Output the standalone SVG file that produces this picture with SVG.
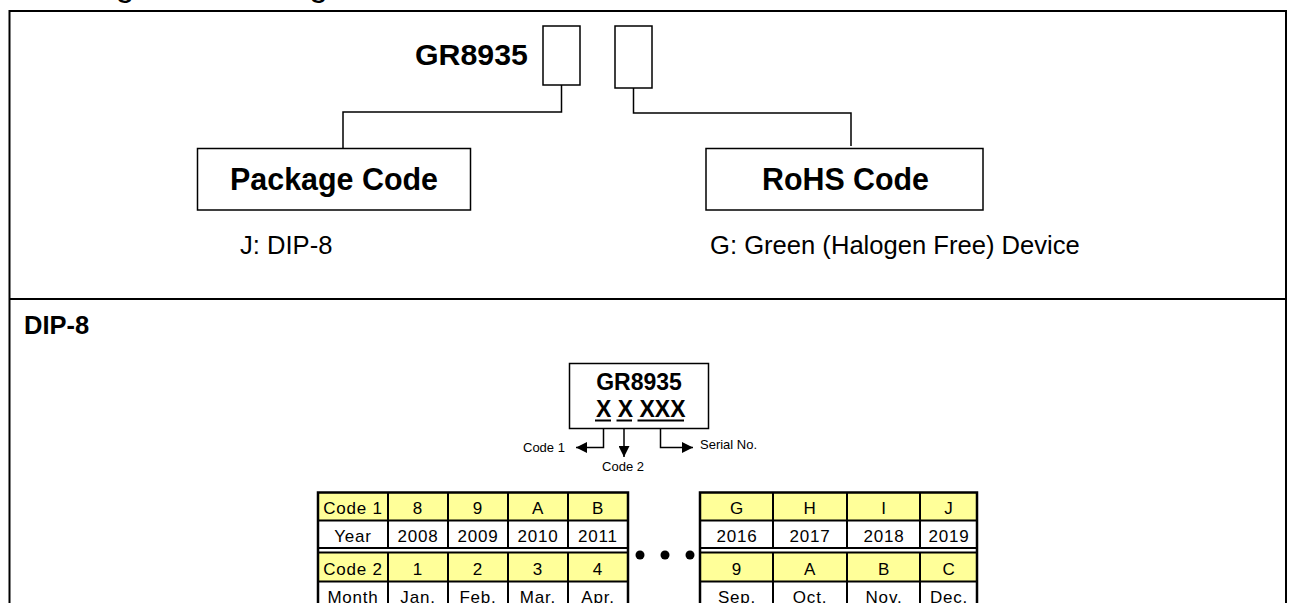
<svg xmlns="http://www.w3.org/2000/svg" width="1290" height="603" viewBox="0 0 1290 603">
<defs>
<style>
text{font-family:"Liberation Sans",Arial,sans-serif;fill:#000}
.frame{fill:none;stroke:#000;stroke-width:2}
.box{fill:#fff;stroke:#000;stroke-width:1.5}
.conn{fill:none;stroke:#000;stroke-width:1.5}
.big{font-size:32px;font-weight:bold}
.desc{font-size:25.6px}
.cell{font-size:17px;letter-spacing:0.8px;text-anchor:middle}
.small{font-size:13px}
.yel{fill:#FFFF99}
.tl{stroke:#000;stroke-width:2}
.tb{fill:none;stroke:#000;stroke-width:2.5}
</style>
<marker id="ah" viewBox="0 0 10 10" refX="10" refY="5" markerUnits="userSpaceOnUse" markerWidth="12" markerHeight="11" orient="auto">
<path d="M0,0 L10,5 L0,10 z" fill="#000"/>
</marker>
</defs>
<rect width="1290" height="603" fill="#fff"/>
<text x="4" y="-4" style="font-size:33.5px">Ordering and Marking Information</text>
<g id="frame">
<path class="frame" d="M9.5,620 V11 H1286 V620"/>
<line x1="9.5" y1="299" x2="1286" y2="299" stroke="#000" stroke-width="2"/>
</g>
<g id="part-number">
<text x="415" y="65" style="font-size:30.3px;font-weight:bold">GR8935</text>
<rect class="box" x="543" y="26" width="37" height="59"/>
<rect class="box" x="615" y="26" width="37" height="62"/>
</g>
<g id="connectors">
<path class="conn" d="M561.5,85 V112 H343 V148.5"/>
<path class="conn" d="M633.5,88 V113 H851 V146"/>
<path class="conn" d="M603.5,421 V447.5 H576" marker-end="url(#ah)"/>
<path class="conn" d="M624,421 V457" marker-end="url(#ah)"/>
<path class="conn" d="M660.5,421 V447.5 H693" marker-end="url(#ah)"/>
</g>
<g id="package-code">
<rect class="box" x="197.5" y="148.5" width="273" height="61.5"/>
<text class="big" x="230" y="190" textLength="208" lengthAdjust="spacingAndGlyphs">Package Code</text>
<text class="desc" x="240" y="254">J: DIP-8</text>
</g>
<g id="rohs-code">
<rect class="box" x="706" y="148.5" width="277" height="61.5"/>
<text class="big" x="762" y="190" textLength="167" lengthAdjust="spacingAndGlyphs">RoHS Code</text>
<text class="desc" x="710" y="254">G: Green (Halogen Free) Device</text>
</g>
<g id="dip8-label">
<text x="24" y="334" style="font-size:25.5px;font-weight:bold">DIP-8</text>
</g>
<g id="marking">
<rect class="box" x="569.5" y="363.5" width="139" height="65"/>
<text x="639" y="390" text-anchor="middle" style="font-size:23px;font-weight:bold">GR8935</text>
<text x="596" y="417" style="font-size:23px;font-weight:bold">X X XXX</text>
<line x1="595" y1="420.5" x2="611" y2="420.5" stroke="#000" stroke-width="2"/>
<line x1="616.5" y1="420.5" x2="632" y2="420.5" stroke="#000" stroke-width="2"/>
<line x1="637.5" y1="420.5" x2="684" y2="420.5" stroke="#000" stroke-width="2"/>
</g>
<g id="marking-labels">
<text class="small" x="523" y="452">Code 1</text>
<text class="small" x="623" y="471" text-anchor="middle">Code 2</text>
<text class="small" x="700" y="449">Serial No.</text>
</g>
<g id="table-left">
<rect class="yel" x="318" y="493" width="310" height="27"/>
<rect class="yel" x="318" y="552" width="310" height="29"/>
<path class="tb" d="M318,620 V492.5 H628 V620"/>
<line class="tl" x1="318" y1="520.5" x2="628" y2="520.5"/>
<line class="tl" x1="318" y1="548" x2="628" y2="548"/>
<line class="tl" x1="318" y1="552.5" x2="628" y2="552.5"/>
<line class="tl" x1="318" y1="581.5" x2="628" y2="581.5"/>
<line class="tl" x1="388" y1="492" x2="388" y2="548"/>
<line class="tl" x1="448" y1="492" x2="448" y2="548"/>
<line class="tl" x1="508" y1="492" x2="508" y2="548"/>
<line class="tl" x1="568" y1="492" x2="568" y2="548"/>
<line class="tl" x1="388" y1="552" x2="388" y2="620"/>
<line class="tl" x1="448" y1="552" x2="448" y2="620"/>
<line class="tl" x1="508" y1="552" x2="508" y2="620"/>
<line class="tl" x1="568" y1="552" x2="568" y2="620"/>
<text class="cell" x="353" y="514">Code 1</text>
<text class="cell" x="418" y="514">8</text>
<text class="cell" x="478" y="514">9</text>
<text class="cell" x="538" y="514">A</text>
<text class="cell" x="598" y="514">B</text>
<text class="cell" x="353" y="542">Year</text>
<text class="cell" x="418" y="542">2008</text>
<text class="cell" x="478" y="542">2009</text>
<text class="cell" x="538" y="542">2010</text>
<text class="cell" x="598" y="542">2011</text>
<text class="cell" x="353" y="575">Code 2</text>
<text class="cell" x="418" y="575">1</text>
<text class="cell" x="478" y="575">2</text>
<text class="cell" x="538" y="575">3</text>
<text class="cell" x="598" y="575">4</text>
<text class="cell" x="353" y="603">Month</text>
<text class="cell" x="418" y="603">Jan.</text>
<text class="cell" x="478" y="603">Feb.</text>
<text class="cell" x="538" y="603">Mar.</text>
<text class="cell" x="598" y="603">Apr.</text>
</g>
<g id="ellipsis">
<circle cx="640" cy="555" r="4.5"/>
<circle cx="665" cy="555" r="4.5"/>
<circle cx="690" cy="555" r="4.5"/>
</g>
<g id="table-right">
<rect class="yel" x="700" y="493" width="277" height="27"/>
<rect class="yel" x="700" y="552" width="277" height="29"/>
<path class="tb" d="M700,620 V492.5 H977 V620"/>
<line class="tl" x1="700" y1="520.5" x2="977" y2="520.5"/>
<line class="tl" x1="700" y1="548" x2="977" y2="548"/>
<line class="tl" x1="700" y1="552.5" x2="977" y2="552.5"/>
<line class="tl" x1="700" y1="581.5" x2="977" y2="581.5"/>
<line class="tl" x1="773" y1="492" x2="773" y2="548"/>
<line class="tl" x1="847" y1="492" x2="847" y2="548"/>
<line class="tl" x1="920" y1="492" x2="920" y2="548"/>
<line class="tl" x1="773" y1="552" x2="773" y2="620"/>
<line class="tl" x1="847" y1="552" x2="847" y2="620"/>
<line class="tl" x1="920" y1="552" x2="920" y2="620"/>
<text class="cell" x="737" y="514">G</text>
<text class="cell" x="810" y="514">H</text>
<text class="cell" x="884" y="514">I</text>
<text class="cell" x="949" y="514">J</text>
<text class="cell" x="737" y="542">2016</text>
<text class="cell" x="810" y="542">2017</text>
<text class="cell" x="884" y="542">2018</text>
<text class="cell" x="949" y="542">2019</text>
<text class="cell" x="737" y="575">9</text>
<text class="cell" x="810" y="575">A</text>
<text class="cell" x="884" y="575">B</text>
<text class="cell" x="949" y="575">C</text>
<text class="cell" x="737" y="603">Sep.</text>
<text class="cell" x="810" y="603">Oct.</text>
<text class="cell" x="884" y="603">Nov.</text>
<text class="cell" x="949" y="603">Dec.</text>
</g>
</svg>
